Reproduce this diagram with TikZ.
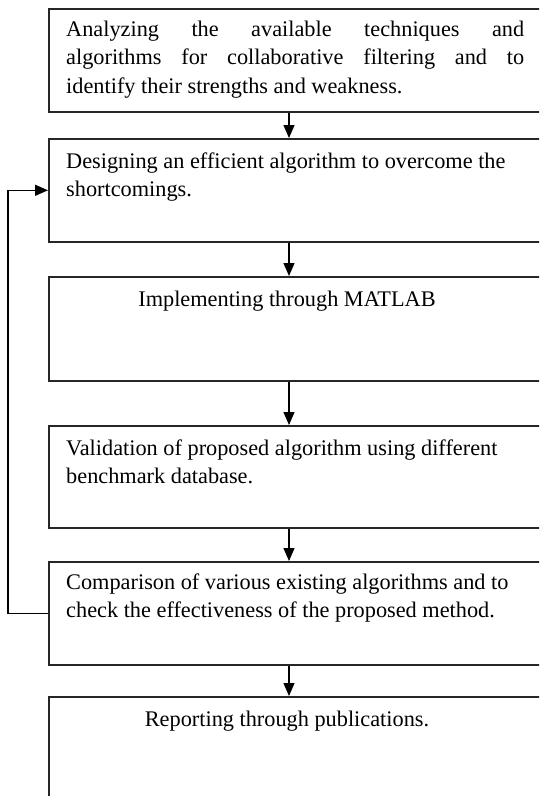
\documentclass[tikz,border=0pt]{standalone}
\usepackage{fontspec}
\setmainfont{Liberation Serif}
\usetikzlibrary{arrows.meta}
\begin{document}
\begin{tikzpicture}[x=1pt,y=-1pt,
  box/.style={draw=black!85, line width=1.6pt, minimum width=500pt, inner sep=0pt, anchor=north west, rectangle},
  lbl/.style={inner sep=0pt, anchor=base west, font=\fontsize{22.3}{28.5}\selectfont},
  clbl/.style={inner sep=0pt, anchor=base, font=\fontsize{22.3}{28.5}\selectfont},
  arr/.style={draw=black, line width=1.3pt, -{Triangle[length=13pt,width=11pt]}}]
\useasboundingbox (0,0) rectangle (539,796);
\clip (0,0) rectangle (539,796);
\coordinate (ax) at (289,0);
% boxes
\node[box, minimum height=103pt] (b1) at (48,8) {};
\node[box, minimum height=103pt] (b2) at (48,138) {};
\node[box, minimum height=104pt] (b3) at (48,276) {};
\node[box, minimum height=102pt] (b4) at (48,425) {};
\node[box, minimum height=103pt] (b5) at (48,561) {};
\node[box, minimum height=130pt] (b6) at (48,696) {};
% texts
\node[lbl] (t1) at (66,36) {\parbox[t]{458pt}{\makebox[458pt][s]{Analyzing the available techniques and}\\\makebox[458pt][s]{algorithms for collaborative filtering and to}\\identify their strengths and weakness.}};
\node[lbl] (t2) at (66,168) {\parbox[t]{470pt}{Designing an efficient algorithm to overcome the\\shortcomings.}};
\node[clbl] (t3) at (287,306) {Implementing through MATLAB};
\node[lbl] (t4) at (66,455) {\parbox[t]{470pt}{Validation of proposed algorithm using different\\benchmark database.}};
\node[lbl] (t5) at (66,589) {\parbox[t]{470pt}{Comparison of various existing algorithms and to\\check the effectiveness of the proposed method.}};
\node[clbl] (t6) at (287,726) {Reporting through publications.};
% connectors
\draw[arr] (b1.south -| ax) -- (b2.north -| ax);
\draw[arr] (b2.south -| ax) -- (b3.north -| ax);
\draw[arr] (b3.south -| ax) -- (b4.north -| ax);
\draw[arr] (b4.south -| ax) -- (b5.north -| ax);
\draw[arr] (b5.south -| ax) -- (b6.north -| ax);
\draw[arr] (b5.west) -- ++(-40,0) |- (b2.west);
\end{tikzpicture}
\end{document}
